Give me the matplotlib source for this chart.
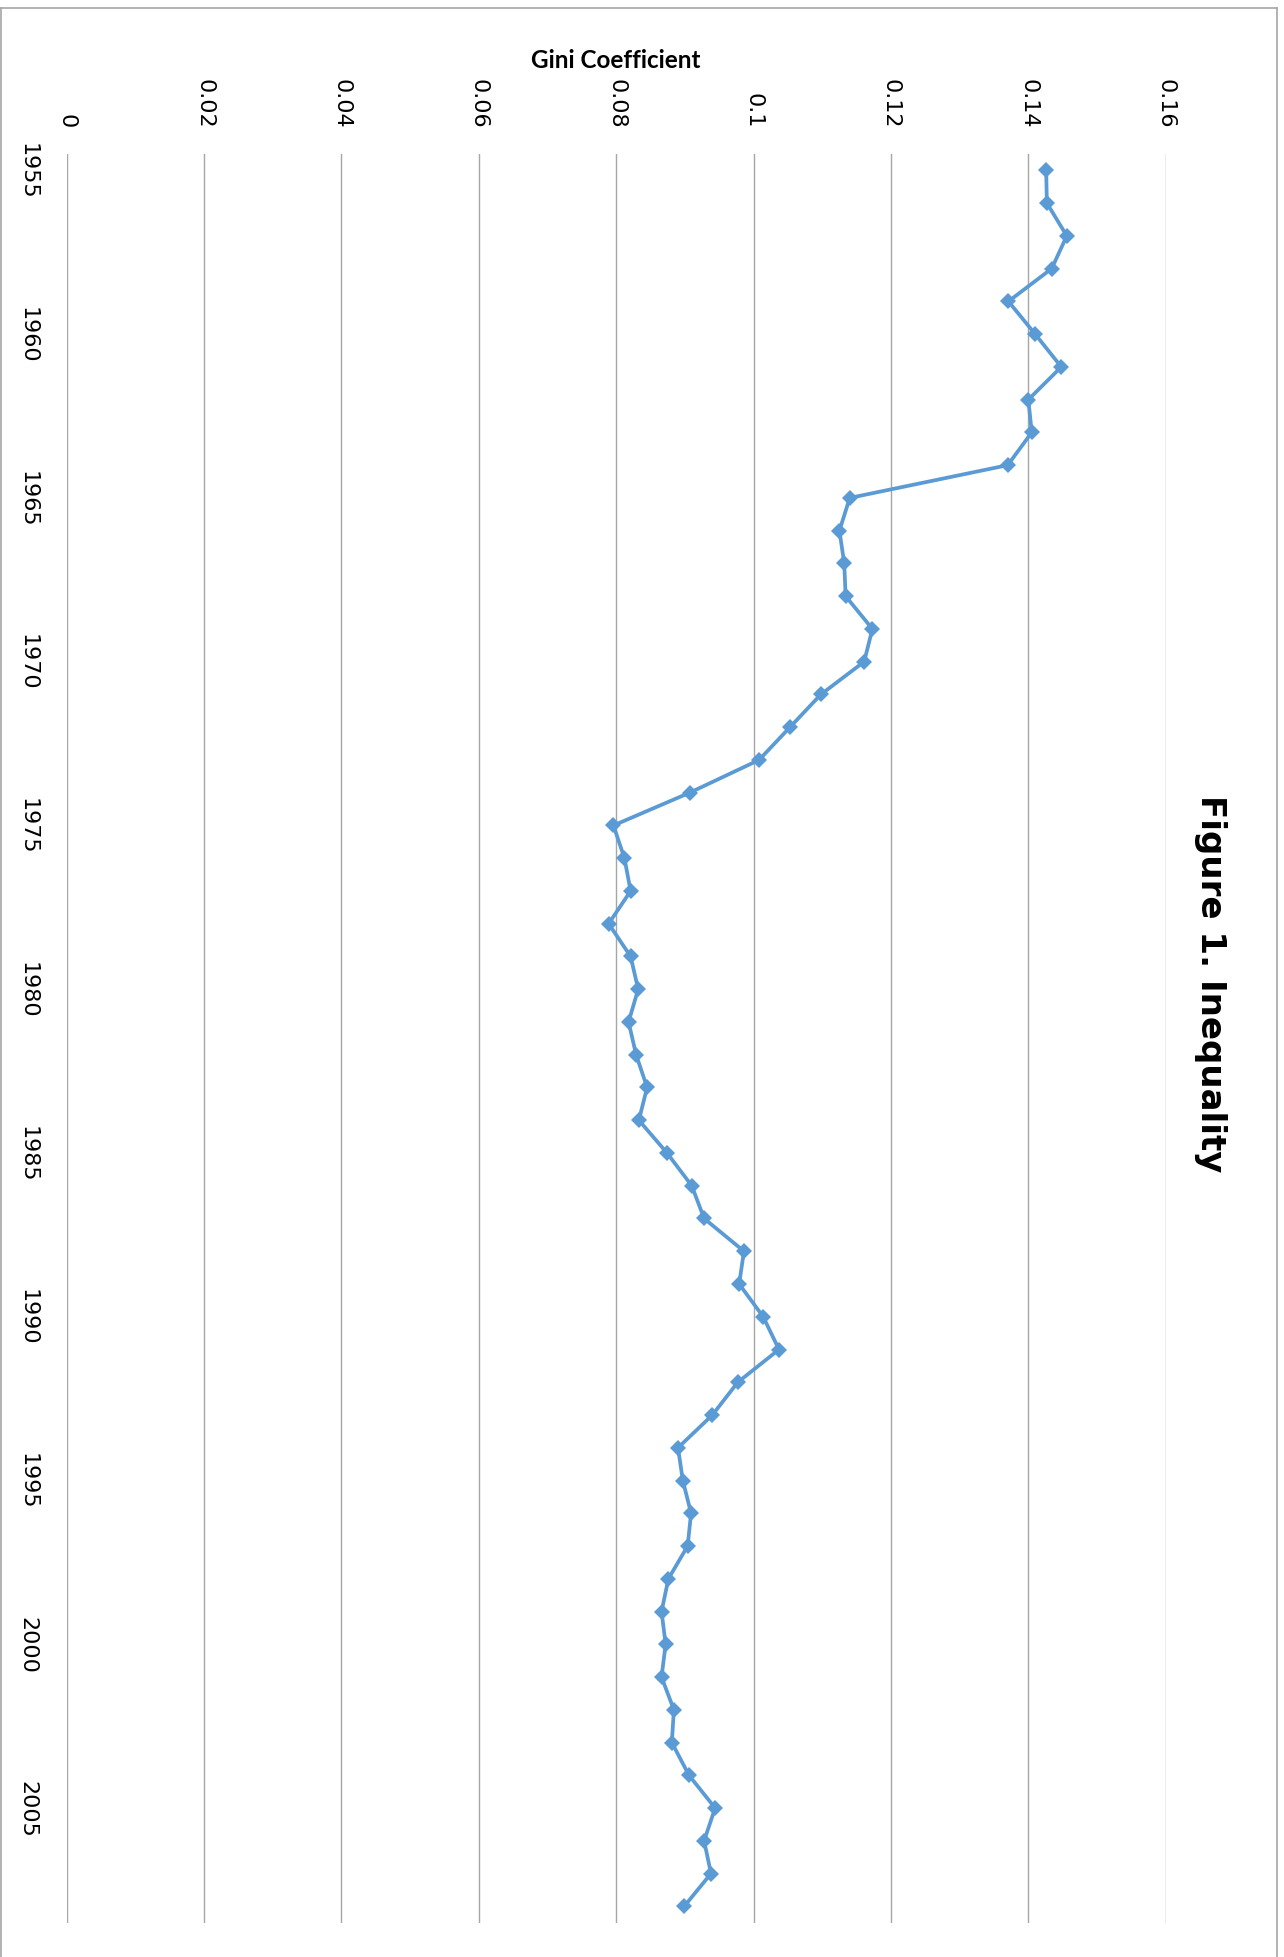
import matplotlib.pyplot as plt
from matplotlib.lines import Line2D

# Gini coefficient by year
years = list(range(1955, 2009))
gini = [0.1426, 0.1427, 0.1456, 0.1434, 0.1371, 0.1410, 0.1448, 0.1400, 0.1405, 0.1370,
        0.1140, 0.1125, 0.1132, 0.1134, 0.1173, 0.1161, 0.1098, 0.1053, 0.1008, 0.0907,
        0.0796, 0.0812, 0.0821, 0.0789, 0.0821, 0.0832, 0.0818, 0.0829, 0.0845, 0.0833,
        0.0874, 0.0910, 0.0928, 0.0986, 0.0979, 0.1014, 0.1037, 0.0977, 0.0940, 0.0890,
        0.0897, 0.0909, 0.0904, 0.0876, 0.0866, 0.0872, 0.0866, 0.0884, 0.0881, 0.0906,
        0.0944, 0.0928, 0.0938, 0.0899]

gini_ticks = [0, 0.02, 0.04, 0.06, 0.08, 0.1, 0.12, 0.14, 0.16]
gini_tick_labels = ["0", "0.02", "0.04", "0.06", "0.08", "0.1", "0.12", "0.14", "0.16"]
year_ticks = [1955, 1960, 1965, 1970, 1975, 1980, 1985, 1990, 1995, 2000, 2005]

W, H = 1284, 1958
fig = plt.figure(figsize=(W / 100, H / 100), dpi=100)

# plot area in pixels (left, top, right, bottom)
L, T, R, B = 66.7, 155, 1165.7, 1923.7
ax = fig.add_axes([L / W, 1 - B / H, (R - L) / W, (B - T) / H])

ax.plot(gini, years, color="#5B9BD5", lw=2.7, marker="D", markersize=8,
        markeredgewidth=0, zorder=3)

ax.set_xlim(0, 0.16)
ax.set_ylim(2008.5, 1954.5)

ax.set_xticks(gini_ticks)
ax.set_xticklabels(gini_tick_labels, rotation=-90, fontsize=16)
ax.xaxis.tick_top()
ax.tick_params(axis="x", length=0, pad=19)

ax.set_yticks(year_ticks)
ax.set_yticklabels([str(y) for y in year_ticks], rotation=-90, fontsize=16,
                   va="center", ha="center")
ax.tick_params(axis="y", length=0, pad=28)

ax.grid(axis="x", color="#A6A6A6", lw=1.0)
ax.set_axisbelow(True)
for s in ax.spines.values():
    s.set_visible(False)

fig.text(616 / W, 1 - 67.7 / H, "Gini Coefficient", ha="center", va="baseline",
         fontsize=17.5, fontweight="bold", family="Lato")

fig.text(1210 / W, 1 - 984 / H, "Figure 1. Inequality", rotation=-90,
         ha="center", va="center", fontsize=24.5, fontweight="bold")

# chart frame
fc = "#A6A6A6"
fig.add_artist(Line2D([0.5 / W, 1277 / W], [1 - 9 / H, 1 - 9 / H], color=fc, lw=1.2))
fig.add_artist(Line2D([0.5 / W, 0.5 / W], [1 - 9 / H, 0], color=fc, lw=1.2))
fig.add_artist(Line2D([1277 / W, 1277 / W], [1 - 9 / H, 0], color=fc, lw=1.2))

fig.savefig("out.png", dpi=100)
